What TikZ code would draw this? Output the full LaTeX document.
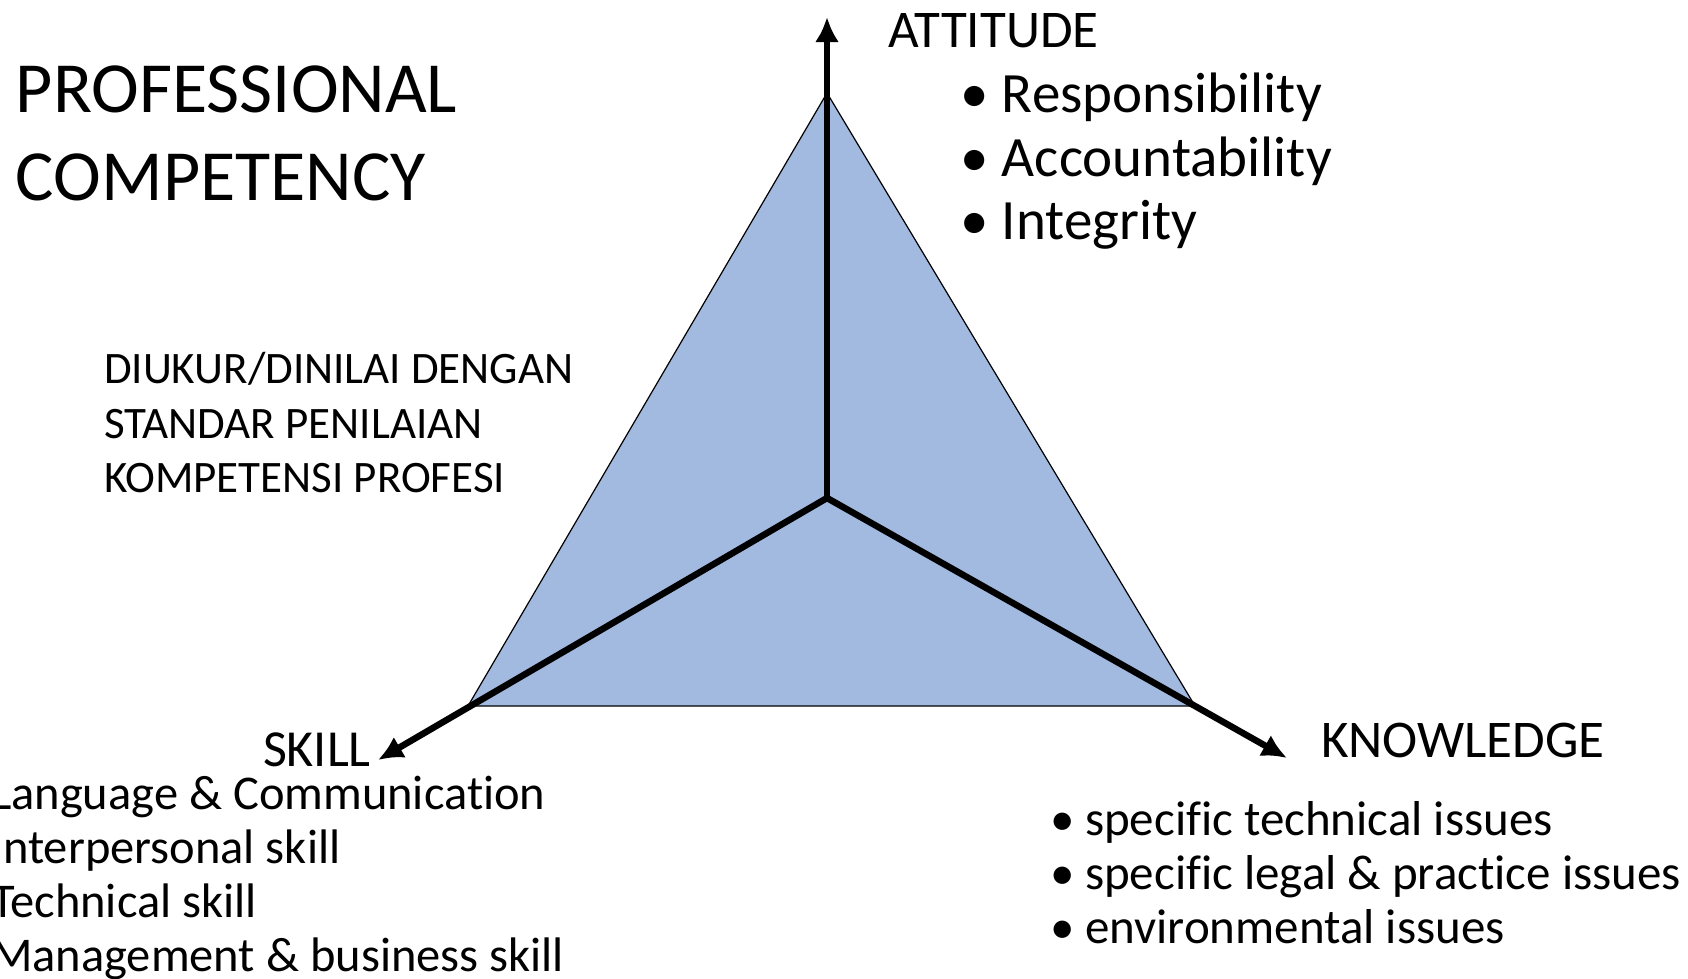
\documentclass[tikz,border=0pt]{standalone}
\usepackage{fontspec}
\setmainfont{Carlito}[Ligatures={TeX,NoCommon}]
\usetikzlibrary{arrows.meta}
\definecolor{trifill}{RGB}{162,185,224}
\tikzset{
  txt/.style={anchor=base west, inner sep=0pt, outer sep=0pt, text=black},
  axis/.style={line width=6.5pt, -{Latex[length=25pt,width=24pt]}},
}
\newcommand{\bul}[2]{\makebox[#1][l]{\textbullet}#2}
\begin{document}
\begin{tikzpicture}[x=1pt,y=-1pt]
\useasboundingbox (0,0) rectangle (1688,978);
% triangle
\coordinate (apex) at (827,93);
\coordinate (bl) at (468,706);
\coordinate (br) at (1195,706);
\coordinate (c) at (827,498);
\coordinate (tipA) at (827,17);
\coordinate (tipS) at (378,760);
\coordinate (tipK) at (1287,758);
\draw[fill=trifill, draw=black, line width=1.2pt] (apex) -- (bl) -- (br) -- cycle;
\draw[axis] (c) -- (tipA);
\draw[axis] (c) -- (tipS);
\draw[axis] (c) -- (tipK);
% title
\node[txt, font=\fontsize{72}{80}\selectfont] (t1) at (16,112) {PROFESSIONAL};
\node[txt, font=\fontsize{72}{80}\selectfont] (t2) at (16,200) {COMPETENCY};
% attitude
\node[txt, font=\fontsize{53}{60}\selectfont] (att) at (888,47) {ATTITUDE};
\node[txt, font=\fontsize{57}{64}\selectfont] (a1) at (960,112) {\bul{42pt}{Responsibility}};
\node[txt, font=\fontsize{57}{64}\selectfont] (a2) at (960,176) {\bul{42pt}{Accountability}};
\node[txt, font=\fontsize{57}{64}\selectfont] (a3) at (960,239) {\bul{42pt}{Integrity}};
% measure text
\node[txt, font=\fontsize{45}{50}\selectfont] (d1) at (104,383) {DIUKUR/DINILAI DENGAN};
\node[txt, font=\fontsize{45}{50}\selectfont] (d2) at (104,438) {STANDAR PENILAIAN};
\node[txt, font=\fontsize{45}{50}\selectfont] (d3) at (104,492) {KOMPETENSI PROFESI};
% skill
\node[txt, font=\fontsize{52}{60}\selectfont] (sk) at (263,766) {SKILL};
\node[txt, font=\fontsize{48.5}{54}\selectfont] (s1) at (-9,809) {Language \& Communication};
\node[txt, font=\fontsize{48.5}{54}\selectfont] (s2) at (-9,863) {Interpersonal skill};
\node[txt, font=\fontsize{48.5}{54}\selectfont] (s3) at (-9,917) {Technical skill};
\node[txt, font=\fontsize{48.5}{54}\selectfont] (s4) at (-9,971) {Management \& business skill};
% knowledge
\node[txt, font=\fontsize{53}{60}\selectfont] (kn) at (1321,757) {KNOWLEDGE};
\node[txt, font=\fontsize{49}{55}\selectfont] (k1) at (1050,835) {\bul{35pt}{specific technical issues}};
\node[txt, font=\fontsize{49}{55}\selectfont] (k2) at (1050,889) {\bul{35pt}{specific legal \& practice issues}};
\node[txt, font=\fontsize{49}{55}\selectfont] (k3) at (1050,943) {\bul{35pt}{environmental issues}};
\end{tikzpicture}
\end{document}
